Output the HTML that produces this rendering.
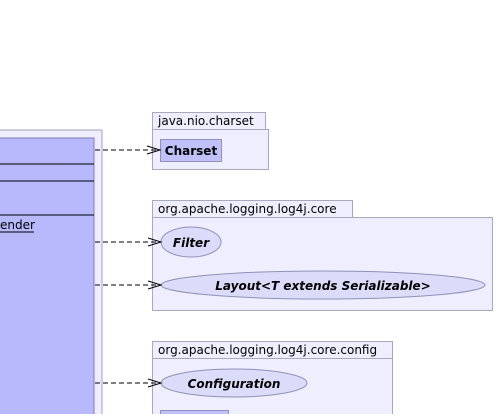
<!DOCTYPE html>
<html><head><style>body{margin:0;background:#fff}</style></head><body>
<svg width="496" height="414" xmlns="http://www.w3.org/2000/svg" font-family="'DejaVu Sans','Liberation Sans',sans-serif">
<rect x="-5" y="130" width="107" height="300" fill="#eeeefe" stroke="#a0a0c0"/>
<rect x="-5" y="138" width="99" height="290" fill="#b8b8fc" stroke="#8080b0"/>
<g stroke="#000"><line x1="0" y1="164" x2="94" y2="164"/><line x1="0" y1="181" x2="94" y2="181"/><line x1="0" y1="215" x2="94" y2="215"/></g>
<text x="0" y="229" font-size="12">ender</text><line x1="0" y1="232" x2="34" y2="232" stroke="#000"/>
<g fill="#eeeefe" stroke="#a8a8c0">
<rect x="152.5" y="112.5" width="113" height="17"/><rect x="152.5" y="129.5" width="116" height="40"/>
<rect x="152.5" y="200.5" width="200" height="17"/><rect x="152.5" y="217.5" width="340" height="93"/>
<rect x="152.5" y="341.5" width="240" height="17"/><rect x="152.5" y="358.5" width="240" height="70"/>
</g>
<g font-size="12" fill="#000">
<text x="158" y="125">java.nio.charset</text>
<text x="158" y="213">org.apache.logging.log4j.core</text>
<text x="158" y="354">org.apache.logging.log4j.core.config</text>
</g>
<g fill="#dcdcfa" stroke="#9090b8">
<rect x="160.5" y="139.5" width="61" height="22" fill="#c0c0fa"/>
<ellipse cx="191" cy="242" rx="30" ry="15"/>
<ellipse cx="323" cy="285" rx="162" ry="14"/>
<ellipse cx="234" cy="383" rx="73" ry="14"/>
<rect x="160.5" y="410.5" width="68" height="10" fill="#c0c0fa"/>
</g>
<g font-size="12" font-weight="bold" text-anchor="middle" fill="#000">
<text x="191" y="155" font-style="normal">Charset</text>
<text x="191" y="247" font-style="italic">Filter</text>
<text x="323" y="290" font-style="italic">Layout&lt;T extends Serializable&gt;</text>
<text x="234" y="388" font-style="italic">Configuration</text>
</g>
<g stroke="#000" fill="none">
<g stroke-dasharray="5,3"><line x1="95" y1="150" x2="159" y2="150"/><line x1="95" y1="242" x2="160" y2="242"/><line x1="95" y1="285" x2="160" y2="285"/><line x1="95" y1="383" x2="160" y2="383"/></g>
<path d="M147,146 L160,150 L147,154"/><path d="M148,238 L161,242 L148,246"/><path d="M148,281 L161,285 L148,289"/><path d="M148,379 L161,383 L148,387"/>
</g>
</svg>
</body></html>
